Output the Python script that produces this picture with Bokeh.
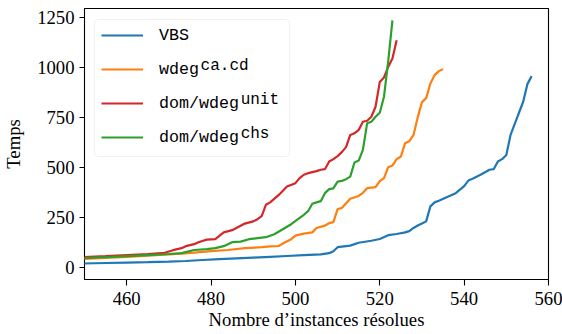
from bokeh.plotting import figure
from bokeh.models import Range1d, FixedTicker, Legend, LegendItem, Label, BoxAnnotation
from bokeh.embed import file_html
from bokeh.resources import INLINE

# ---- data ----
x_vbs = [449, 455, 460, 465, 470, 474, 478, 482, 486, 490,
         494, 498, 502, 506, 508, 509, 510, 513, 515, 518,
         520, 522, 524, 526, 527, 528, 529, 530, 531, 532,
         533, 534, 536, 538, 540, 541, 542, 544, 546, 547,
         548, 549, 550, 551, 552, 553, 554, 555, 556]
y_vbs = [18, 21, 23, 25, 28, 31, 36, 40, 44, 48,
         52, 56, 60, 64, 70, 80, 100, 108, 122, 132,
         141, 160, 166, 174, 180, 196, 208, 218, 229, 304,
         324, 332, 351, 370, 405, 433, 442, 463, 487, 490,
         528, 540, 561, 661, 716, 772, 827, 915, 955]

x_cacd = [449, 455, 460, 465, 470, 473, 476, 480, 484, 488,
          492, 494, 496, 497, 499, 500, 502, 504, 505, 507,
          508, 509, 510, 511, 513, 515, 516, 517, 519, 520,
          521, 522, 523, 524, 525, 526, 527, 528, 529, 530,
          531, 532, 533, 534, 535]
y_cacd = [40, 46, 52, 58, 64, 68, 73, 80, 86, 95,
          100, 104, 106, 118, 140, 158, 168, 174, 196, 208,
          220, 225, 290, 296, 342, 356, 372, 395, 400, 430,
          445, 500, 508, 540, 553, 620, 630, 661, 750, 825,
          845, 918, 960, 980, 990]

x_unit = [449, 455, 460, 465, 469, 471, 473, 474, 476, 477,
          479, 481, 483, 485, 486, 488, 490, 491, 492, 493,
          494, 496, 498, 500, 501, 502, 503, 505, 506, 507,
          508, 509, 510, 511, 512, 513, 514, 515, 516, 517,
          518, 519, 520, 521, 522, 523, 524]
y_unit = [50, 55, 60, 65, 72, 85, 95, 105, 115, 125,
          138, 140, 174, 185, 196, 218, 229, 240, 255, 312,
          324, 360, 403, 420, 445, 462, 470, 480, 487, 490,
          528, 540, 555, 575, 600, 661, 669, 686, 727, 732,
          752, 802, 926, 948, 1001, 1043, 1134]

x_chs = [449, 455, 460, 465, 470, 473, 476, 479, 481, 483,
         485, 487, 489, 491, 493, 495, 497, 499, 501, 502,
         503, 504, 505, 506, 507, 508, 509, 510, 511, 512,
         513, 514, 515, 516, 517, 518, 519, 520, 521, 522, 523]
y_chs = [45, 50, 55, 60, 66, 70, 86, 90, 95, 105,
         125, 128, 140, 145, 150, 165, 190, 215, 246, 262,
         280, 317, 324, 330, 370, 390, 394, 428, 431, 440,
         453, 523, 533, 586, 719, 727, 752, 772, 852, 1030, 1234]

legend_main = ["VBS", "wdeg", "dom/wdeg", "dom/wdeg"]
legend_sup = ["", "ca.cd", "unit", "chs"]
colors = ["#1f77b4", "#ff7f0e", "#d62728", "#2ca02c"]

x_ticks = [460, 480, 500, 520, 540, 560]
y_ticks = [0, 250, 500, 750, 1000, 1250]
x_title = "Nombre d\u2019instances résolues"
y_title = "Temps"

# ---- layout constants ----
W, H = 562, 334
BL, BR, BT, BB = 83, 14, 8, 55
FRAME_W = W - BL - BR
FRAME_H = H - BT - BB
SERIF = "Liberation Serif"
MONO = "Liberation Mono"
FS = "18.7px"
LFS = 16.7
CELL = LFS * 0.6

p = figure(width=W, height=H, output_backend="svg", toolbar_location=None,
           x_range=Range1d(450, 560), y_range=Range1d(-61.5, 1293),
           min_border_left=BL, min_border_right=BR, min_border_top=BT,
           min_border_bottom=BB)
p.grid.visible = False
p.outline_line_color = "black"
p.outline_line_width = 1.1
p.background_fill_color = "white"
p.border_fill_color = "white"

p.xaxis.ticker = FixedTicker(ticks=x_ticks)
p.yaxis.ticker = FixedTicker(ticks=y_ticks)
p.xaxis.axis_label = x_title
p.yaxis.axis_label = y_title
for ax in (p.xaxis[0], p.yaxis[0]):
    ax.axis_line_color = None
    ax.major_tick_line_color = "black"
    ax.major_tick_line_width = 1.1
    ax.major_tick_in = 0
    ax.minor_tick_line_color = None
    ax.major_label_text_font = SERIF
    ax.major_label_text_font_size = FS
    ax.major_label_text_color = "black"
    ax.axis_label_text_font = SERIF
    ax.axis_label_text_font_size = FS
    ax.axis_label_text_font_style = "normal"
    ax.axis_label_text_color = "black"
p.xaxis.major_tick_out = 6
p.yaxis.major_tick_out = 5
p.xaxis.major_label_standoff = 6
p.yaxis.major_label_standoff = 5
p.xaxis.axis_label_standoff = 1
p.yaxis.axis_label_standoff = 10

# legend frame (drawn as a box behind a transparent legend)
box = BoxAnnotation(left=10, right=205, top=FRAME_H - 11, bottom=FRAME_H - 148,
                    left_units="screen", right_units="screen",
                    top_units="screen", bottom_units="screen",
                    fill_color="white", fill_alpha=0.8,
                    line_color="#cccccc", line_width=1, level="underlay")
if "border_radius" in BoxAnnotation.properties():
    box.border_radius = 4
p.add_layout(box)

series = [(x_vbs, y_vbs), (x_cacd, y_cacd), (x_unit, y_unit), (x_chs, y_chs)]
renderers = []
for (xs, ys), c in zip(series, colors):
    renderers.append(p.line(xs, ys, line_color=c, line_width=2.2))

GW, GH, STAND, SPACING = 42, 20, 16, 14
legend = Legend(items=[LegendItem(label=t, renderers=[r]) for t, r in zip(legend_main, renderers)],
                location="top_left", margin=17, padding=6,
                glyph_width=GW, glyph_height=GH, label_height=GH,
                label_standoff=STAND, spacing=SPACING,
                label_text_font=MONO, label_text_font_size=f"{LFS}px",
                label_text_color="black",
                border_line_color=None, background_fill_alpha=0)
p.add_layout(legend)

# superscripts of the legend labels (frame-relative screen units)
TXT_X0, ROW0 = 76, 28
for i, (main, sup) in enumerate(zip(legend_main, legend_sup)):
    if not sup:
        continue
    cy = ROW0 + i * (GH + SPACING)
    p.add_layout(Label(x=TXT_X0 + len(main) * CELL, y=FRAME_H - cy + 5,
                       x_units="screen", y_units="screen", text=sup,
                       text_font=MONO, text_font_size="16px", text_color="black",
                       text_baseline="middle", text_align="left", level="overlay"))

open("out.html", "w").write(file_html(p, INLINE))
